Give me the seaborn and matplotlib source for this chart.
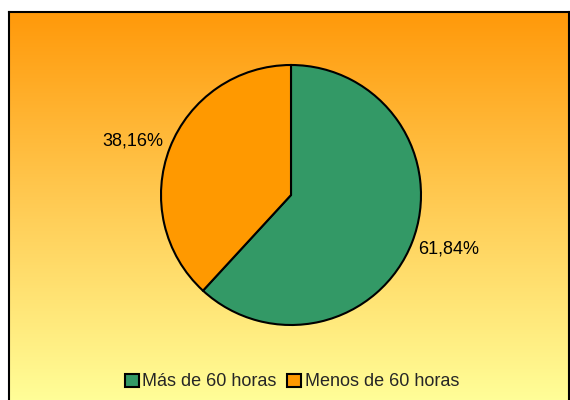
import numpy as np
import matplotlib
matplotlib.use("Agg")
import matplotlib.pyplot as plt
from matplotlib.colors import LinearSegmentedColormap
from matplotlib.patches import Patch
import seaborn as sns

# ── Data ─────────────────────────────────────────────────────────────────────
categories = ["Más de 60 horas", "Menos de 60 horas"]
shares = [61.84, 38.16]
slice_colors = ["#339966", "#FF9900"]

sns.set_style("white")
plt.rcParams["font.family"] = ["Liberation Sans", "DejaVu Sans"]

fig = plt.figure(figsize=(5.7, 4.0), dpi=100)
fig.patch.set_facecolor("white")

# gradient chart area with black border
bg = fig.add_axes([9 / 570, -0.01, 560 / 570, 388 / 400 + 0.01])
grad = LinearSegmentedColormap.from_list("bg", ["#FF990A", "#FFCC55", "#FFFF99"])
bg.imshow(np.linspace(0, 1, 256).reshape(-1, 1), aspect="auto", cmap=grad,
          extent=(0, 1, 0, 1), origin="upper")
bg.set_xticks([])
bg.set_yticks([])
for side in ["left", "top", "right"]:
    bg.spines[side].set_color("black")
    bg.spines[side].set_linewidth(1.5)
bg.spines["bottom"].set_visible(False)

# pie
ax = fig.add_axes([161 / 570, 75 / 400, 260 / 570, 260 / 400])
wedges, texts, autotexts = ax.pie(
    shares, colors=slice_colors, startangle=90, counterclock=False,
    autopct=lambda p: f"{p:.2f}%".replace(".", ","), pctdistance=1.28,
    wedgeprops={"edgecolor": "black", "linewidth": 1.5},
    textprops={"fontsize": 13, "color": "black"},
)
for w in wedges:
    w.set_clip_on(False)
# Excel places the labels a little flatter than the radial midpoint
for t in autotexts:
    x, y = t.get_position()
    t.set_position((x * 1.02, y * 0.89))
ax.set_xlim(-1, 1)
ax.set_ylim(-1, 1)
ax.set_aspect("equal")
ax.axis("off")

handles = [Patch(facecolor=c, edgecolor="black", linewidth=1.5) for c in slice_colors]
fig.legend(handles, categories, loc="center", bbox_to_anchor=(292 / 570, 1 - 382 / 400),
           ncol=2, frameon=False, fontsize=13, handlelength=0.75, handleheight=0.75,
           handletextpad=0.2, columnspacing=0.6)

fig.savefig("out.png", dpi=100)
